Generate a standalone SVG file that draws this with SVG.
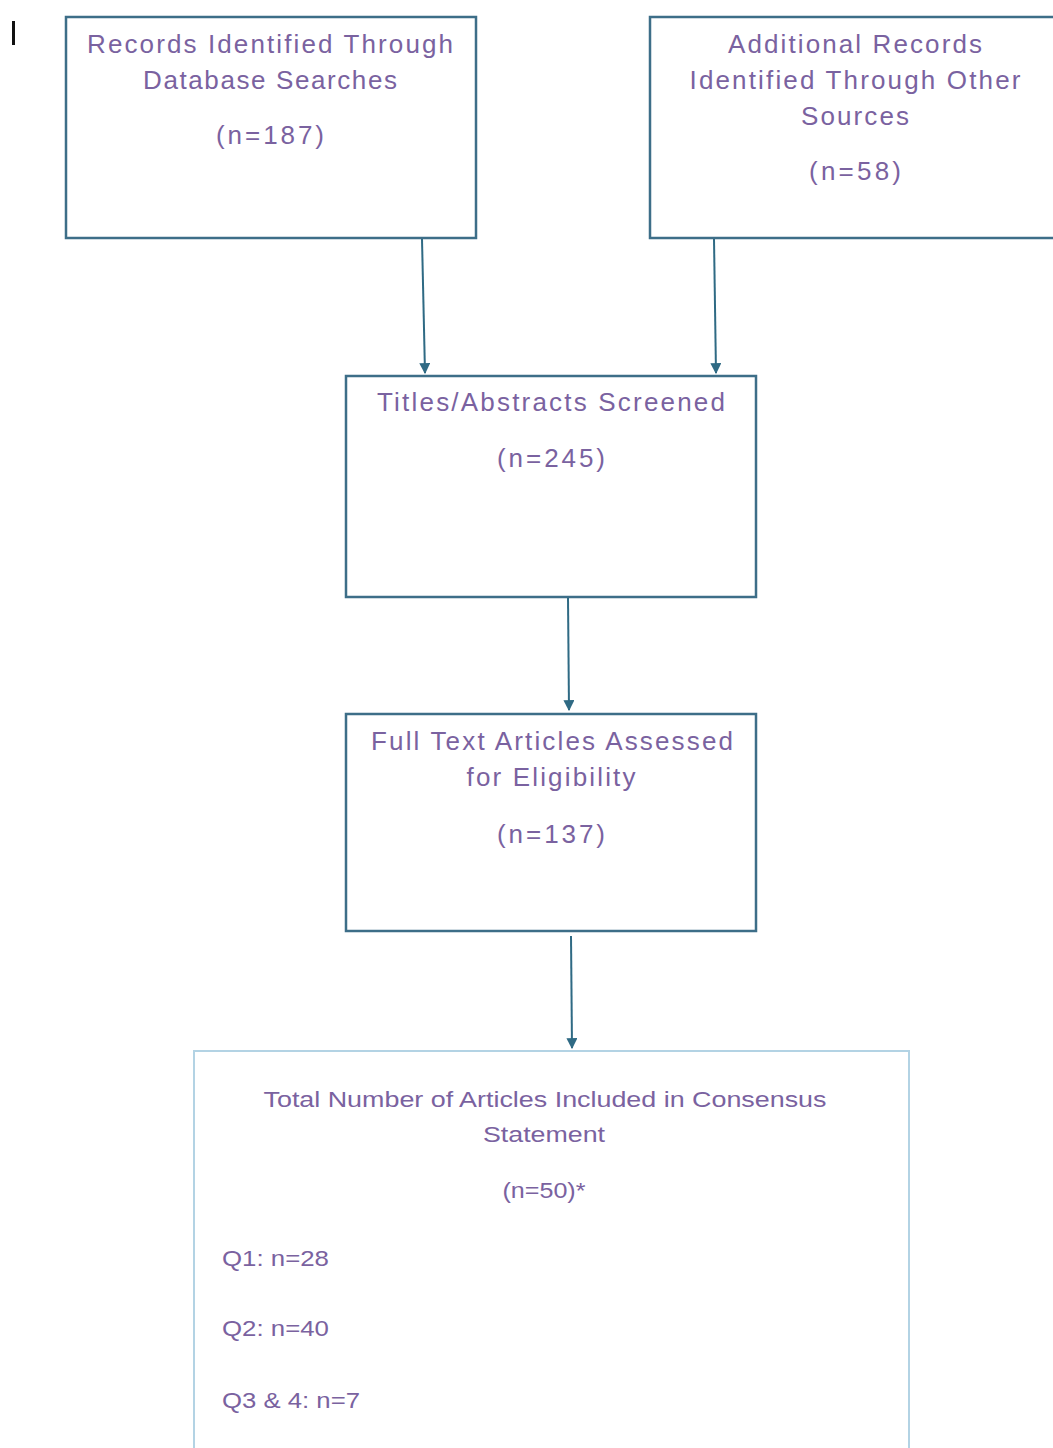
<svg xmlns="http://www.w3.org/2000/svg" width="1053" height="1448" viewBox="0 0 1053 1448">
<defs>
<style>
.box{fill:#ffffff;stroke:#3d6e88;stroke-width:2.5}
.box2{fill:#ffffff;stroke:#b3d3e4;stroke-width:2}
.t{font-family:"Liberation Sans",Arial,sans-serif;font-size:26px;fill:#7a62a0;text-anchor:middle}
.s{font-family:"Liberation Sans",Arial,sans-serif;font-size:22px;fill:#7a62a0;text-anchor:middle}
.q{font-family:"Liberation Sans",Arial,sans-serif;font-size:22px;fill:#7a62a0}
.c{stroke:#2f6a84;stroke-width:2;fill:none}
</style>
<marker id="arr" viewBox="0 0 10 10" refX="9" refY="5" markerWidth="5.5" markerHeight="5.5" orient="auto-start-reverse" markerUnits="strokeWidth">
<path d="M0,0 L10,5 L0,10 z" fill="#2f6a84"/>
</marker>
</defs>
<rect width="1053" height="1448" fill="#ffffff"/>
<rect x="12" y="21" width="3" height="24" fill="#111111"/>
<g id="n1">
<rect class="box" x="66" y="17" width="410" height="221"/>
<text class="t" x="270" y="53" textLength="366" lengthAdjust="spacing">Records Identified Through</text>
<text class="t" x="270" y="89" textLength="254" lengthAdjust="spacing">Database Searches</text>
<text class="t" x="270" y="144" textLength="108" lengthAdjust="spacing">(n=187)</text>
</g>
<g id="n2">
<rect class="box" x="650" y="17" width="410" height="221"/>
<text class="t" x="855" y="53" textLength="254" lengthAdjust="spacing">Additional Records</text>
<text class="t" x="855" y="89" textLength="331" lengthAdjust="spacing">Identified Through Other</text>
<text class="t" x="855" y="125" textLength="108" lengthAdjust="spacing">Sources</text>
<text class="t" x="855" y="180" textLength="92" lengthAdjust="spacing">(n=58)</text>
</g>
<g id="n3">
<rect class="box" x="346" y="376" width="410" height="221"/>
<text class="t" x="551" y="411" textLength="348" lengthAdjust="spacing">Titles/Abstracts Screened</text>
<text class="t" x="551" y="467" textLength="108" lengthAdjust="spacing">(n=245)</text>
</g>
<g id="n4">
<rect class="box" x="346" y="714" width="410" height="217"/>
<text class="t" x="552" y="750" textLength="362" lengthAdjust="spacing">Full Text Articles Assessed</text>
<text class="t" x="551" y="786" textLength="169" lengthAdjust="spacing">for Eligibility</text>
<text class="t" x="551" y="843" textLength="108" lengthAdjust="spacing">(n=137)</text>
</g>
<g id="n5">
<rect class="box2" x="194" y="1051" width="715" height="410"/>
<text class="s" x="545" y="1107" textLength="563" lengthAdjust="spacingAndGlyphs">Total Number of Articles Included in Consensus</text>
<text class="s" x="544" y="1142" textLength="122" lengthAdjust="spacingAndGlyphs">Statement</text>
<text class="s" x="544" y="1198" font-size="20" textLength="83" lengthAdjust="spacingAndGlyphs">(n=50)*</text>
<text class="q" x="222" y="1266" textLength="107" lengthAdjust="spacingAndGlyphs">Q1: n=28</text>
<text class="q" x="222" y="1336" textLength="107" lengthAdjust="spacingAndGlyphs">Q2: n=40</text>
<text class="q" x="222" y="1408" textLength="138" lengthAdjust="spacingAndGlyphs">Q3 &amp; 4: n=7</text>
</g>
<g id="connectors">
<line class="c" x1="422" y1="239" x2="425" y2="373" marker-end="url(#arr)"/>
<line class="c" x1="714" y1="239" x2="716" y2="373" marker-end="url(#arr)"/>
<line class="c" x1="568" y1="598" x2="569" y2="710" marker-end="url(#arr)"/>
<line class="c" x1="571" y1="936" x2="572" y2="1048" marker-end="url(#arr)"/>
</g>
</svg>
